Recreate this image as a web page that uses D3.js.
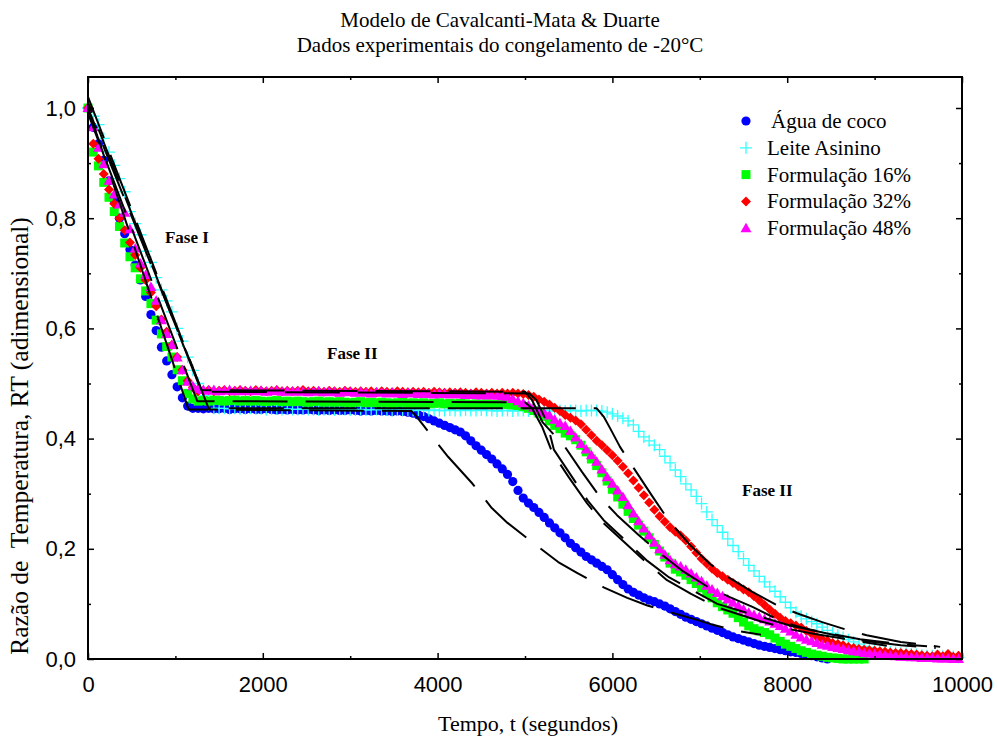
<!DOCTYPE html>
<html>
<head>
<meta charset="utf-8">
<script src="https://cdn.jsdelivr.net/npm/d3@7/dist/d3.min.js"></script>
<style>
body { margin: 0; background: #fff; }
text { font-family: "Liberation Serif", "Times New Roman", serif; }
.tick text { font-family: "Liberation Sans", Arial, sans-serif; }
</style>
</head>
<body>
<script>
// sampling times of the experiment (s)
const times = [
  0, 60, 120, 180, 240, 300, 360, 420, 480, 540, 600, 660, 720, 780, 840, 900, 960, 1020, 1080, 1140,
  1200, 1260, 1320, 1380, 1440, 1500, 1560, 1620, 1680, 1740, 1800, 1860, 1920, 1980, 2040, 2100, 2160, 2220, 2280, 2340,
  2400, 2460, 2520, 2580, 2640, 2700, 2760, 2820, 2880, 2940, 3000, 3060, 3120, 3180, 3240, 3300, 3360, 3420, 3480, 3540,
  3600, 3660, 3720, 3780, 3840, 3900, 3960, 4020, 4080, 4140, 4200, 4260, 4320, 4380, 4440, 4500, 4560, 4620, 4680, 4740,
  4800, 4860, 4920, 4980, 5040, 5100, 5160, 5220, 5280, 5340, 5400, 5460, 5520, 5580, 5640, 5700, 5760, 5820, 5880, 5940,
  6000, 6060, 6120, 6180, 6240, 6300, 6360, 6420, 6480, 6540, 6600, 6660, 6720, 6780, 6840, 6900, 6960, 7020, 7080, 7140,
  7200, 7260, 7320, 7380, 7440, 7500, 7560, 7620, 7680, 7740, 7800, 7860, 7920, 7980, 8040, 8100, 8160, 8220, 8280, 8340,
  8400, 8460, 8520, 8580, 8640, 8700, 8760, 8820, 8880, 8940, 9000, 9060, 9120, 9180, 9240, 9300, 9360, 9420, 9480, 9540,
  9600, 9660, 9720, 9780, 9840, 9900, 9960
];

// Água de coco
const aguaCoco = [
  1.000, 0.965, 0.935, 0.905, 0.868, 0.832, 0.800, 0.772, 0.743, 0.715, 0.688, 0.658, 0.625, 0.596, 0.566, 0.541, 0.516, 0.494, 0.474, 0.459, 0.455,
  0.455, 0.454, 0.455, 0.454, 0.454, 0.455, 0.453, 0.454, 0.454, 0.453,
  0.454, 0.453, 0.453, 0.454, 0.453, 0.452, 0.453, 0.452, 0.453, 0.452,
  0.452, 0.453, 0.452, 0.451, 0.452, 0.451, 0.452, 0.451, 0.451, 0.452,
  0.451, 0.450, 0.451, 0.450, 0.451, 0.450, 0.450, 0.449, 0.450, 0.449,
  0.448,
  0.446, 0.443, 0.440, 0.436, 0.432, 0.428, 0.424, 0.420, 0.416, 0.412,
  0.405, 0.396, 0.387, 0.379, 0.371, 0.363, 0.354, 0.345, 0.335, 0.322,
  0.306, 0.292, 0.283, 0.275, 0.266, 0.257, 0.247, 0.238, 0.229, 0.220,
  0.210, 0.202, 0.194, 0.186, 0.180, 0.174, 0.168, 0.162, 0.153, 0.144,
  0.135, 0.127, 0.121, 0.116, 0.111, 0.107, 0.104, 0.100, 0.096, 0.091,
  0.086, 0.081, 0.076, 0.072, 0.068, 0.064, 0.060, 0.056, 0.052, 0.048,
  0.044, 0.040, 0.037, 0.034, 0.031, 0.028, 0.025, 0.023, 0.021, 0.019,
  0.017, 0.015, 0.013, 0.012, 0.010, 0.008, 0.006, 0.004, 0.002, 0.000
];

// Leite Asinino
const leiteAsinino = [
  1.000, 0.985, 0.970, 0.945, 0.920, 0.896, 0.872, 0.848, 0.812, 0.790, 0.770, 0.740, 0.720, 0.692, 0.670, 0.650, 0.630, 0.600, 0.577, 0.548,
  0.524, 0.500, 0.478, 0.462, 0.455,
  0.455, 0.455, 0.454, 0.455, 0.454, 0.454, 0.455, 0.454, 0.454, 0.453, 0.454, 0.454,
  0.453, 0.454, 0.453, 0.453, 0.454, 0.453, 0.453, 0.452, 0.453, 0.453, 0.452, 0.453,
  0.453, 0.452, 0.452, 0.453, 0.452, 0.452, 0.453, 0.452, 0.452, 0.451, 0.452, 0.452,
  0.452, 0.451, 0.452, 0.452, 0.451, 0.452, 0.451, 0.451, 0.452, 0.451, 0.451, 0.452,
  0.451, 0.451, 0.452, 0.451, 0.451, 0.450, 0.451, 0.451, 0.450, 0.451, 0.451, 0.450,
  0.451, 0.450, 0.451, 0.451, 0.450, 0.451, 0.450, 0.451, 0.451, 0.450, 0.451, 0.451,
  0.451, 0.450, 0.448, 0.445, 0.441, 0.437, 0.432, 0.425, 0.413, 0.403,
  0.396, 0.388, 0.380, 0.368, 0.356, 0.343, 0.331, 0.318, 0.307, 0.295,
  0.282, 0.267, 0.253, 0.242, 0.230, 0.218, 0.206, 0.195, 0.182, 0.170,
  0.160, 0.150, 0.140, 0.131, 0.123, 0.113, 0.103, 0.093, 0.085, 0.078,
  0.073, 0.068, 0.064, 0.058, 0.052, 0.047, 0.043, 0.039, 0.035, 0.031,
  0.027, 0.023, 0.021, 0.019, 0.017, 0.015, 0.013, 0.012, 0.011, 0.010,
  0.009, 0.008, 0.007, 0.006, 0.006, 0.005, 0.005, 0.004, 0.004, 0.003
];

// Formulação 16%
const form16 = [
  1.000, 0.920, 0.895, 0.865, 0.838, 0.812, 0.785, 0.755, 0.730, 0.710, 0.690, 0.668, 0.645, 0.615, 0.590, 0.567, 0.548, 0.525, 0.505, 0.482,
  0.472, 0.468,
  0.469, 0.468, 0.470, 0.469, 0.468, 0.469, 0.470, 0.468, 0.469, 0.468,
  0.469, 0.468, 0.467, 0.468, 0.469, 0.467, 0.468, 0.467, 0.468, 0.467,
  0.466, 0.467, 0.468, 0.466, 0.467, 0.466, 0.467, 0.466, 0.465, 0.466,
  0.467, 0.465, 0.466, 0.465, 0.466, 0.465, 0.464, 0.465, 0.466, 0.464,
  0.465, 0.464, 0.465, 0.463, 0.464, 0.465, 0.463, 0.464, 0.463, 0.464,
  0.463, 0.462, 0.463, 0.462, 0.463, 0.462, 0.462, 0.463,
  0.462, 0.461, 0.460, 0.458, 0.455, 0.451, 0.446, 0.440, 0.432, 0.424,
  0.418, 0.410, 0.405, 0.398, 0.388, 0.376, 0.363, 0.351, 0.338, 0.323,
  0.308, 0.294, 0.281, 0.268, 0.255, 0.243, 0.232, 0.220, 0.208, 0.196,
  0.185, 0.174, 0.163, 0.158, 0.152, 0.144, 0.137, 0.129, 0.120, 0.111,
  0.102, 0.095, 0.089, 0.083, 0.075, 0.067, 0.060, 0.055, 0.051, 0.048,
  0.044, 0.038, 0.032, 0.027, 0.023, 0.019, 0.015, 0.012, 0.009, 0.007,
  0.005, 0.003, 0.002, 0.001, 0.000, 0.000, 0.000, 0.000, 0.000
];

// Formulação 32%
const form32 = [
  1.000, 0.935, 0.908, 0.880, 0.852, 0.826, 0.800, 0.778, 0.756, 0.733, 0.710, 0.688, 0.665, 0.640, 0.616, 0.594, 0.570, 0.548, 0.525, 0.505,
  0.493, 0.486,
  0.487, 0.488, 0.486, 0.487, 0.488, 0.486, 0.487, 0.488, 0.487, 0.486,
  0.488, 0.487, 0.486, 0.487, 0.488, 0.486, 0.487, 0.486, 0.487, 0.488,
  0.486, 0.487, 0.486, 0.485, 0.487, 0.486, 0.485, 0.487, 0.486, 0.485,
  0.486, 0.485, 0.486, 0.484, 0.486, 0.485, 0.484, 0.486, 0.485, 0.484,
  0.485, 0.484, 0.485, 0.483, 0.485, 0.484, 0.483, 0.484, 0.483, 0.484,
  0.483, 0.482, 0.484, 0.483, 0.482, 0.483, 0.482, 0.483, 0.482, 0.483, 0.482,
  0.481, 0.479, 0.476, 0.471, 0.467, 0.462, 0.456, 0.450, 0.443, 0.438,
  0.433, 0.426, 0.416, 0.406, 0.396, 0.388, 0.379, 0.370, 0.360, 0.349,
  0.337, 0.324, 0.311, 0.297, 0.284, 0.271, 0.259, 0.249, 0.239, 0.231,
  0.224, 0.215, 0.204, 0.193, 0.182, 0.173, 0.164, 0.156, 0.150, 0.144,
  0.138, 0.132, 0.126, 0.121, 0.114, 0.106, 0.098, 0.090, 0.082, 0.075,
  0.069, 0.065, 0.061, 0.057, 0.051, 0.046, 0.040, 0.036, 0.033, 0.029,
  0.027, 0.025, 0.022, 0.020, 0.018, 0.017, 0.016, 0.015, 0.014, 0.013,
  0.012, 0.011, 0.011, 0.010, 0.009, 0.008, 0.007, 0.006, 0.005, 0.008,
  0.005, 0.009, 0.004, 0.006
];

// Formulação 48%
const form48 = [
  1.000, 0.965, 0.928, 0.898, 0.868, 0.843, 0.825, 0.810, 0.780, 0.745, 0.718, 0.697, 0.675, 0.650, 0.615, 0.590, 0.570, 0.547, 0.524, 0.503,
  0.495, 0.490,
  0.488, 0.487, 0.488, 0.486, 0.487, 0.488, 0.486, 0.487, 0.486, 0.487,
  0.486, 0.487, 0.485, 0.486, 0.487, 0.485, 0.486, 0.485, 0.486, 0.485,
  0.484, 0.485, 0.486, 0.484, 0.485, 0.484, 0.483, 0.485, 0.484, 0.483,
  0.484, 0.483, 0.482, 0.484, 0.483, 0.482, 0.483, 0.482, 0.481, 0.483,
  0.482, 0.481, 0.482, 0.481, 0.480, 0.482, 0.481, 0.480, 0.481, 0.480,
  0.479, 0.480, 0.479, 0.478, 0.479, 0.478, 0.478, 0.477,
  0.476, 0.472, 0.468, 0.464, 0.460, 0.456, 0.451, 0.447, 0.442, 0.434,
  0.428, 0.423, 0.414, 0.402, 0.390, 0.380, 0.370, 0.358, 0.344, 0.330,
  0.318, 0.306, 0.294, 0.279, 0.264, 0.250, 0.237, 0.224, 0.211, 0.199,
  0.189, 0.179, 0.172, 0.168, 0.162, 0.155, 0.148, 0.141, 0.133, 0.126,
  0.120, 0.114, 0.108, 0.102, 0.096, 0.090, 0.084, 0.080, 0.076, 0.072,
  0.068, 0.064, 0.060, 0.055, 0.050, 0.044, 0.039, 0.035, 0.032, 0.029,
  0.026, 0.024, 0.022, 0.020, 0.018, 0.016, 0.014, 0.013, 0.011, 0.010,
  0.009, 0.008, 0.007, 0.006, 0.005, 0.004, 0.004, 0.003, 0.003, 0.002,
  0.002, 0.002, 0.001, 0.001, 0.001, 0.000, 0.000
];

// Cavalcanti-Mata & Duarte model curves, [t, RT]
const modelAgua = [[0, 1.0], [1150, 0.453], [3700, 0.450], [3760, 0.440], [3970, 0.397], [4120, 0.367], [4400, 0.318],
  [4620, 0.274], [4800, 0.247], [5100, 0.210], [5380, 0.176], [5600, 0.156], [5900, 0.130], [6170, 0.111], [6400, 0.097],
  [6700, 0.083], [6970, 0.071], [7150, 0.062], [7400, 0.052], [7700, 0.044]];
const modelLeite = [[0, 1.02], [1380, 0.455], [5820, 0.455], [5900, 0.440], [5973, 0.419], [6087, 0.385], [6250, 0.345],
  [6450, 0.297], [6650, 0.250], [6900, 0.205], [7120, 0.172], [7310, 0.150], [7600, 0.122], [7880, 0.098], [8110, 0.083],
  [8400, 0.067], [8680, 0.053], [8910, 0.043], [9300, 0.031], [9750, 0.022]];
const model16 = [[0, 0.99], [1250, 0.468], [5000, 0.466], [5080, 0.455], [5200, 0.420], [5309, 0.376], [5500, 0.330],
  [5709, 0.283], [5881, 0.249], [6150, 0.210], [6396, 0.174], [6625, 0.143], [6900, 0.118], [7197, 0.094], [7426, 0.082],
  [7700, 0.068], [8032, 0.054], [8300, 0.046], [8600, 0.038], [8900, 0.030], [9140, 0.024]];
const model32 = [[0, 1.0], [1300, 0.488], [5000, 0.485], [5080, 0.470], [5200, 0.430], [5457, 0.385], [5650, 0.340],
  [5858, 0.294], [6053, 0.261], [6300, 0.225], [6545, 0.192], [6800, 0.160], [7100, 0.130], [7350, 0.112], [7609, 0.094],
  [7850, 0.075], [8066, 0.062], [8261, 0.053], [8550, 0.043], [8833, 0.034], [9300, 0.025], [9700, 0.020]];
const model48 = [[0, 1.01], [1300, 0.485], [5050, 0.482], [5130, 0.470], [5250, 0.430], [5330, 0.380], [5720, 0.287],
  [5900, 0.252], [6400, 0.178], [6650, 0.148], [7200, 0.100], [7450, 0.088], [8050, 0.060], [8300, 0.052], [8833, 0.036],
  [9300, 0.027], [9600, 0.023]];

const seriesNames = ["Água de coco", "Leite Asinino", "Formulação 16%", "Formulação 32%", "Formulação 48%"];
const seriesColors = ["#0000ff", "#33ffff", "#00ff00", "#ff0000", "#ff00ff"];
const seriesShapes = ["circle", "plus", "square", "diamond", "triangle"];
const seriesValues = [aguaCoco, leiteAsinino, form16, form32, form48];
const models = [modelAgua, modelLeite, model16, model32, model48];

const xTicks = [0, 2000, 4000, 6000, 8000, 10000];
const xMinor = [1000, 3000, 5000, 7000, 9000];
const yTicks = [0, 0.2, 0.4, 0.6, 0.8, 1.0];
const yMinor = [0.1, 0.3, 0.5, 0.7, 0.9];

const width = 998;
const height = 740;
const plotLeft = 88, plotRight = 962, plotTop = 77, plotBottom = 659;

const svg = d3.select("body").append("svg")
  .attr("width", width)
  .attr("height", height);

const x = d3.scaleLinear().domain([0, 10000]).range([plotLeft, plotRight]);
const y = d3.scaleLinear().domain([0, (plotBottom - plotTop) / 551]).range([plotBottom, plotTop]);

// marker shapes
function shapePath(kind) {
  if (kind === "circle") return "M4.6,0A4.6,4.6 0 1,1 -4.6,0A4.6,4.6 0 1,1 4.6,0Z";
  if (kind === "square") return "M-4.5,-4.5H4.5V4.5H-4.5Z";
  if (kind === "diamond") return "M0,-5L5,0L0,5L-5,0Z";
  if (kind === "triangle") return "M0,-5.5L5.5,4L-5.5,4Z";
  return "M-6,0H6M0,-6V6";
}

function drawMarker(sel, kind, color) {
  sel.append("path")
    .attr("d", shapePath(kind))
    .attr("fill", kind === "plus" ? "none" : color)
    .attr("stroke", kind === "plus" ? color : "none")
    .attr("stroke-width", 1.3);
}

// data markers
seriesValues.forEach((vals, i) => {
  const pts = vals.map((v, j) => [times[j], v]).filter(d => d[1] != null && d[0] != null);
  const g = svg.append("g");
  pts.forEach(d => {
    const m = g.append("g").attr("transform", `translate(${x(d[0])},${y(d[1])})`);
    drawMarker(m, seriesShapes[i], seriesColors[i]);
  });
});

// model curves (dashed black)
const line = d3.line()
  .x(d => x(d[0]))
  .y(d => y(d[1]));

models.forEach((m, i) => {
  svg.append("path")
    .datum(m)
    .attr("d", line)
    .attr("fill", "none")
    .attr("stroke", "#000")
    .attr("stroke-width", 2)
    .attr("stroke-linejoin", "round")
    .attr("stroke-dasharray", "55,18")
    .attr("stroke-dashoffset", i * 11);
});

// axes, ticks inward on all sides
const fmtY = d => d.toFixed(1).replace(".", ",");
svg.append("g").attr("transform", `translate(0,${plotBottom})`)
  .call(d3.axisBottom(x).tickValues(xTicks).tickSize(-6).tickPadding(17).tickFormat(d3.format("d")));
svg.append("g").attr("transform", `translate(0,${plotBottom})`)
  .call(d3.axisBottom(x).tickValues(xMinor).tickSize(-3).tickFormat(""));
svg.append("g").attr("transform", `translate(0,${plotTop})`)
  .call(d3.axisTop(x).tickValues(xTicks).tickSize(-6).tickFormat(""));
svg.append("g").attr("transform", `translate(0,${plotTop})`)
  .call(d3.axisTop(x).tickValues(xMinor).tickSize(-3).tickFormat(""));
svg.append("g").attr("transform", `translate(${plotLeft},0)`)
  .call(d3.axisLeft(y).tickValues(yTicks).tickSize(-6).tickPadding(12).tickFormat(fmtY));
svg.append("g").attr("transform", `translate(${plotLeft},0)`)
  .call(d3.axisLeft(y).tickValues(yMinor).tickSize(-3).tickFormat(""));
svg.append("g").attr("transform", `translate(${plotRight},0)`)
  .call(d3.axisRight(y).tickValues(yTicks).tickSize(-6).tickFormat(""));
svg.append("g").attr("transform", `translate(${plotRight},0)`)
  .call(d3.axisRight(y).tickValues(yMinor).tickSize(-3).tickFormat(""));

svg.selectAll(".domain").remove();
svg.selectAll(".tick line").attr("stroke", "#000").attr("stroke-width", 1.5);
svg.selectAll(".tick text").attr("font-size", 22).attr("fill", "#000");

svg.append("rect")
  .attr("x", plotLeft).attr("y", plotTop)
  .attr("width", plotRight - plotLeft).attr("height", plotBottom - plotTop)
  .attr("fill", "none").attr("stroke", "#000").attr("stroke-width", 2);

// titles
svg.append("text").attr("x", 500).attr("y", 27).attr("text-anchor", "middle")
  .attr("font-size", 21).text("Modelo de Cavalcanti-Mata & Duarte");
svg.append("text").attr("x", 500).attr("y", 52).attr("text-anchor", "middle")
  .attr("font-size", 21).text("Dados experimentais do congelamento de -20°C");

svg.append("text").attr("x", 528).attr("y", 731).attr("text-anchor", "middle")
  .attr("font-size", 22).text("Tempo, t (segundos)");
svg.append("text")
  .attr("transform", "translate(28,436) rotate(-90)")
  .attr("text-anchor", "middle")
  .attr("font-size", 25.5)
  .style("white-space", "pre")
  .text("Razão de  Temperatura, RT (adimensional)");

// phase labels
const phaseLabels = [["Fase I", 880, 0.755], ["Fase II", 2735, 0.544], ["Fase II", 7483, 0.296]];
phaseLabels.forEach(p => {
  svg.append("text").attr("x", x(p[1])).attr("y", y(p[2]))
    .attr("font-size", 17).attr("font-weight", "bold").text(p[0]);
});

// legend
const legend = svg.append("g");
seriesNames.forEach((name, i) => {
  const ly = 121 + i * 26.8;
  const m = legend.append("g").attr("transform", `translate(746,${ly})`);
  drawMarker(m, seriesShapes[i], seriesColors[i]);
  legend.append("text").attr("x", i === 0 ? 771 : 767).attr("y", ly + 7)
    .attr("font-size", 21).text(name);
});
</script>
</body>
</html>
